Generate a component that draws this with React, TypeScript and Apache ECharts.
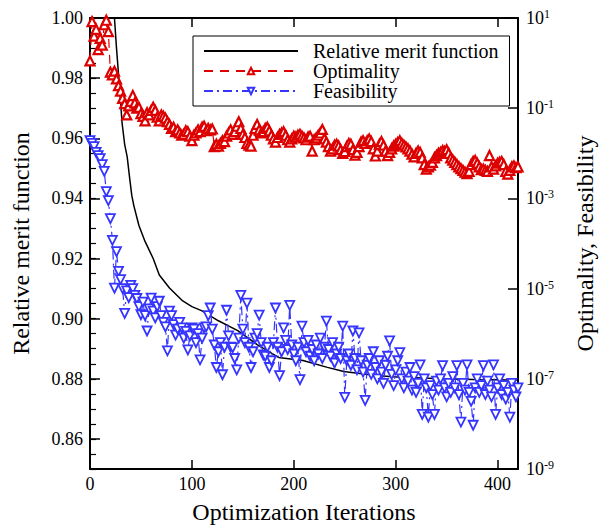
import React, { useEffect, useRef } from "react";
import * as echarts from "echarts";

const FONT = "'Liberation Serif', 'Times New Roman', serif";

// Relative merit function (left axis), read at sampled iterations
const meritIter = [0, 8, 16, 22, 24, 26, 28.5, 31.5, 34, 36.5, 39, 41, 43, 48, 54, 62, 68, 78, 91, 100, 110, 126, 145, 164, 185, 209, 233, 249, 265, 281, 297, 313, 345, 376, 420];
const meritValue = [1.3, 1.15, 1.06, 1.01, 1.0, 0.99, 0.979, 0.965, 0.958, 0.9538, 0.9465, 0.941, 0.9376, 0.931, 0.9257, 0.92, 0.9145, 0.9102, 0.9059, 0.904, 0.9026, 0.8993, 0.896, 0.8914, 0.8871, 0.8861, 0.8838, 0.8824, 0.8818, 0.8811, 0.8807, 0.8804, 0.88, 0.8798, 0.8796];

// Optimality and feasibility: log10 of value, one reading every ITER_STEP iterations
const ITER_STEP = 2;
const optimalityLog10 = [
  0.05, 0.92, 0.6, 0.75, 0.3, 0.55, 0.4, 0.85, 0.95, 0.7,
  -0.2, -0.26, -0.18, -0.35, -0.5, -0.62, -0.78, -0.9, -1.15, -0.95,
  -0.85, -0.72, -0.88, -1.0, -0.98, -1.12, -1.18, -1.28, -1.1, -1.15,
  -1.05, -0.98, -1.05, -1.2, -1.28, -1.15, -1.18, -1.22, -1.3, -1.36,
  -1.45, -1.42, -1.52, -1.48, -1.55, -1.6, -1.58, -1.5, -1.52, -1.62,
  -1.72, -1.6, -1.55, -1.48, -1.52, -1.42, -1.4, -1.5, -1.45, -1.48,
  -1.46, -1.85, -1.8, -1.84, -1.78, -1.72, -1.74, -1.62, -1.55, -1.48,
  -1.58, -1.52, -1.4, -1.3, -1.45, -1.58, -1.65, -1.78, -1.82, -1.84,
  -1.6, -1.45, -1.36, -1.48, -1.55, -1.52, -1.45, -1.42, -1.5, -1.6,
  -1.68, -1.75, -1.65, -1.58, -1.55, -1.52, -1.6, -1.7, -1.75, -1.68,
  -1.62, -1.64, -1.6, -1.58, -1.62, -1.66, -1.7, -1.64, -1.62, -1.95,
  -1.7, -1.66, -1.6, -1.55, -1.47, -1.68, -1.75, -1.85, -1.95, -1.9,
  -1.82, -1.8, -1.84, -1.92, -2.0, -1.96, -1.85, -1.78, -1.8, -1.92,
  -2.04, -1.98, -1.85, -1.75, -1.72, -1.78, -1.72, -1.68, -1.74, -1.9,
  -2.06, -1.95, -1.8, -1.74, -1.82, -1.95, -2.05, -1.98, -1.9, -1.84,
  -1.8, -1.76, -1.72, -1.78, -1.82, -1.86, -1.9, -1.95, -2.02, -2.08,
  -2.0, -1.95, -1.98, -2.1, -2.25, -2.35, -2.3, -2.26, -2.2, -2.1,
  -2.05, -2.0, -1.98, -1.94, -1.96, -1.92, -2.0, -2.1, -2.15, -2.2,
  -2.25, -2.3, -2.34, -2.38, -2.42, -2.45, -2.4, -2.25, -2.18, -2.16,
  -2.22, -2.3, -2.36, -2.35, -2.38, -2.4, -2.05, -2.3, -2.35, -2.28,
  -2.22, -2.2, -2.18, -2.25, -2.4, -2.46, -2.38, -2.3, -2.28, -2.32,
  -2.3,
];
const feasibilityLog10 = [
  -1.72, -1.78, -1.85, -1.98, -2.05, -2.12, -2.25, -2.4, -2.85, -3.05,
  -3.45, -3.93, -4.99, -4.18, -4.62, -4.8, -5.0, -5.55, -5.05, -5.2,
  -4.93, -5.0, -5.15, -5.22, -5.4, -5.58, -5.3, -5.6, -5.94, -5.45,
  -5.21, -5.5, -5.65, -5.4, -5.28, -5.6, -5.75, -5.85, -6.38, -5.5,
  -5.6, -5.8, -6.03, -5.9, -5.75, -5.87, -6.1, -5.95, -6.36, -6.05,
  -5.87, -5.9, -6.2, -6.0, -6.58, -6.1, -5.87, -5.85, -5.6, -5.43,
  -5.9, -6.25, -6.75, -6.4, -6.2, -6.91, -6.3, -5.48, -6.05, -6.3,
  -6.31, -6.55, -6.8, -6.1, -5.15, -5.9, -6.2, -5.32, -6.3, -6.75,
  -6.4, -6.1, -6.0, -5.59, -6.2, -6.47, -6.5, -6.3, -6.75, -6.6,
  -6.2, -5.43, -6.3, -6.93, -6.4, -5.87, -6.15, -6.35, -5.37, -6.25,
  -6.45, -6.6, -6.3, -7.02, -5.83, -6.2, -6.4, -6.15, -6.5, -6.35,
  -6.6, -6.25, -6.45, -6.1, -6.55, -6.3, -5.72, -6.35, -6.5, -6.2,
  -6.65, -6.45, -6.3, -6.55, -5.83, -7.41, -6.6, -6.45, -6.7, -5.94,
  -6.55, -6.8, -5.98, -6.6, -6.85, -7.48, -6.7, -6.55, -6.9, -6.4,
  -6.75, -7.0, -6.6, -6.85, -7.1, -6.7, -6.5, -6.16, -6.9, -7.15,
  -6.8, -6.6, -6.42, -7.0, -7.2, -6.85, -7.05, -6.75, -7.25, -6.95,
  -7.3, -7.1, -6.69, -7.79, -7.0, -7.2, -7.85, -7.15, -7.35, -7.79,
  -7.05, -7.25, -7.0, -6.71, -7.2, -7.4, -7.1, -7.3, -6.95, -7.2,
  -6.71, -7.35, -7.96, -7.1, -7.25, -6.69, -7.3, -7.5, -8.03, -7.2,
  -7.0, -7.3, -7.15, -6.71, -7.35, -7.05, -7.25, -7.4, -6.69, -7.79,
  -7.2, -7.0, -7.35, -7.15, -7.45, -7.3, -7.85, -7.1, -7.25, -7.4,
  -7.2,
];

const xTickValues = [0, 100, 200, 300, 400];
const xTopTickValues = [100, 200, 300, 400];
const leftTickValues = [0.86, 0.88, 0.9, 0.92, 0.94, 0.96, 0.98, 1.0];
const rightTickValues = [1e-9, 1e-7, 1e-5, 1e-3, 1e-1, 1e1];

const seriesNames = ["Relative merit function", "Optimality", "Feasibility"];

export default function App() {
  const ref = useRef<HTMLDivElement>(null);
  useEffect(() => {
    if (!ref.current) return;
    const chart = echarts.init(ref.current, undefined, { renderer: "svg" });
    const meritData = meritIter.map((x, i) => [x, meritValue[i]]);
    const optData = optimalityLog10.map((v, i) => [i * ITER_STEP, Math.pow(10, v)]);
    const feasData = feasibilityLog10.map((v, i) => [i * ITER_STEP, Math.pow(10, v)]);
    const axisLine = { show: true, lineStyle: { color: "#000", width: 2 } };
    const labelStyle = { fontFamily: FONT, fontSize: 18, color: "#000" };
    chart.setOption({
      animation: false,
      backgroundColor: "#fff",
      textStyle: { fontFamily: FONT, color: "#000" },
      grid: { left: 90, top: 18, right: 77, bottom: 57, containLabel: false },
      legend: {
        left: 193,
        top: 36,
        orient: "vertical",
        backgroundColor: "#fff",
        borderColor: "#000",
        borderWidth: 1,
        borderRadius: 0,
        padding: [5, 11, 5, 10],
        itemGap: 0,
        itemWidth: 94,
        itemHeight: 8,
        textStyle: { fontFamily: FONT, fontSize: 20, color: "#000", lineHeight: 20, padding: [0, 0, 0, 10] },
        data: [
          { name: seriesNames[0], itemStyle: { opacity: 0 } },
          { name: seriesNames[1] },
          { name: seriesNames[2] },
        ],
      },
      xAxis: [
        {
          type: "value",
          min: 0,
          max: 420,
          position: "bottom",
          axisLine,
          axisTick: { show: true, inside: true, length: 9, customValues: xTickValues, lineStyle: { color: "#000", width: 1.5 } },
          axisLabel: { ...labelStyle, margin: 6, customValues: xTickValues },
          splitLine: { show: false },
          name: "Optimization Iterations",
          nameLocation: "middle",
          nameGap: 31,
          nameTextStyle: { fontFamily: FONT, fontSize: 24, color: "#000" },
        },
        {
          type: "value",
          min: 0,
          max: 420,
          position: "top",
          axisLine,
          axisTick: { show: true, inside: true, length: 9, customValues: xTopTickValues, lineStyle: { color: "#000", width: 1.5 } },
          axisLabel: { show: false },
          splitLine: { show: false },
        },
      ],
      yAxis: [
        {
          type: "value",
          min: 0.85,
          max: 1.0,
          position: "left",
          axisLine,
          axisTick: { show: true, inside: true, length: 10, customValues: leftTickValues, lineStyle: { color: "#000", width: 1.5 } },
          axisLabel: { ...labelStyle, margin: 7, customValues: leftTickValues, formatter: (v: number) => v.toFixed(2) },
          splitLine: { show: false },
          name: "Relative merit function",
          nameLocation: "middle",
          nameGap: 57,
          nameRotate: 90,
          nameTextStyle: { fontFamily: FONT, fontSize: 24, color: "#000" },
        },
        {
          type: "value",
          min: 0.85,
          max: 1.0,
          interval: 0.005,
          position: "left",
          axisLine: { show: false },
          axisTick: { show: true, inside: true, length: 6, lineStyle: { color: "#000", width: 1.2 } },
          axisLabel: { show: false },
          splitLine: { show: false },
        },
        {
          type: "log",
          logBase: 10,
          min: 1e-9,
          max: 10,
          position: "right",
          axisLine,
          axisTick: { show: true, inside: true, length: 10, customValues: rightTickValues, lineStyle: { color: "#000", width: 1.5 } },
          axisLabel: {
            ...labelStyle,
            margin: 8,
            customValues: rightTickValues,
            formatter: (v: number) => `{b|10}{s|${Math.round(Math.log10(v))}}`,
            rich: {
              b: { fontFamily: FONT, fontSize: 18, color: "#000" },
              s: { fontFamily: FONT, fontSize: 12, color: "#000", verticalAlign: "top", padding: [0, 0, 8, 0] },
            },
          },
          splitLine: { show: false },
          name: "Optimality, Feasibility",
          nameLocation: "middle",
          nameGap: 55,
          nameRotate: 90,
          nameTextStyle: { fontFamily: FONT, fontSize: 24, color: "#000" },
        },
      ],
      series: [
        {
          name: seriesNames[0],
          type: "line",
          xAxisIndex: 0,
          yAxisIndex: 0,
          data: meritData,
          showSymbol: false,
          symbol: "none",
          smooth: false,
          clip: true,
          lineStyle: { color: "#000", width: 1.5 },
          itemStyle: { color: "#000" },
          z: 2,
        },
        {
          name: seriesNames[1],
          type: "line",
          xAxisIndex: 0,
          yAxisIndex: 2,
          data: optData,
          symbol: "triangle",
          symbolSize: 9,
          showAllSymbol: true,
          clip: true,
          lineStyle: { color: "#dd0000", width: 1.2, type: [9, 7] },
          itemStyle: { color: "#fff", borderColor: "#dd0000", borderWidth: 2.2 },
          z: 3,
        },
        {
          name: seriesNames[2],
          type: "line",
          xAxisIndex: 0,
          yAxisIndex: 2,
          data: feasData,
          symbol: "triangle",
          symbolRotate: 180,
          symbolSize: 9,
          showAllSymbol: true,
          clip: true,
          lineStyle: { color: "#3535ff", width: 1.2, type: [9, 4, 2, 4] },
          itemStyle: { color: "#fff", borderColor: "#3535ff", borderWidth: 1.8 },
          z: 3,
        },
      ],
    });
    return () => chart.dispose();
  }, []);
  return <div ref={ref} style={{ width: 605, height: 529, position: "absolute", left: 0, top: 0 }} />;
}
